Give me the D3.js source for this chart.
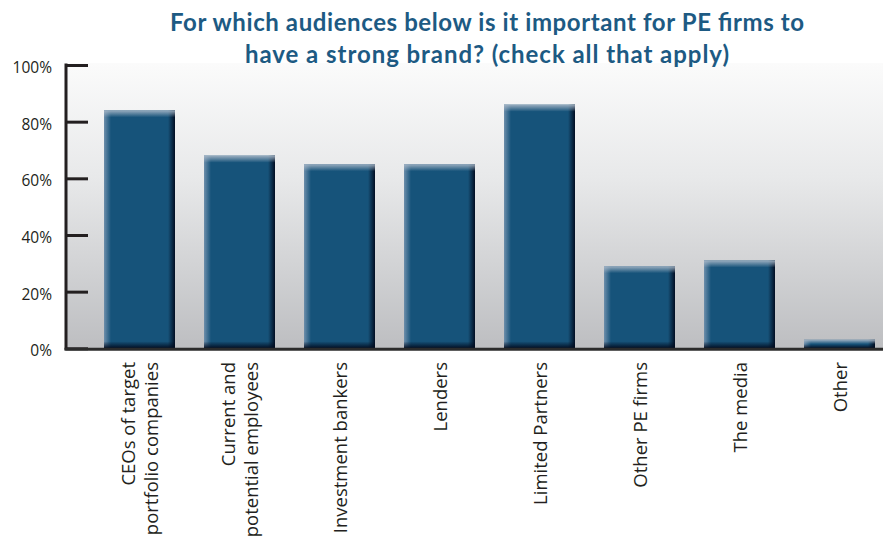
<!DOCTYPE html>
<html>
<head>
<meta charset="utf-8">
<script src="https://cdn.jsdelivr.net/npm/d3@7"></script>
<style>
  html, body { margin: 0; padding: 0; background: #ffffff; }
  svg { display: block; }
</style>
</head>
<body>
<svg id="chart" width="883" height="541"></svg>
<script>
const titleLines = ["For which audiences below is it important for PE firms to", "have a strong brand? (check all that apply)"];
const categories = [
  ["CEOs of target", "portfolio companies"],
  ["Current and", "potential employees"],
  ["Investment bankers"],
  ["Lenders"],
  ["Limited Partners"],
  ["Other PE firms"],
  ["The media"],
  ["Other"]
];
const values = [84, 68, 65, 65, 86, 29, 31, 3];
const yTicks = [0, 20, 40, 60, 80, 100];

const svg = d3.select("#chart");
const plotLeft = 66, plotRight = 883, plotTop = 63, plotBottom = 348.3;

const x = d3.scaleBand().domain(d3.range(categories.length)).range([89.5, 889.5]).paddingInner(0.29).paddingOuter(0.145);
const y = d3.scaleLinear().domain([0, 100]).range([plotBottom, 65]);

const defs = svg.append("defs");
const bg = defs.append("linearGradient").attr("id", "bg").attr("x1", 0).attr("y1", 0).attr("x2", 0).attr("y2", 1);
bg.append("stop").attr("offset", "0%").attr("stop-color", "#fbfbfb");
bg.append("stop").attr("offset", "40%").attr("stop-color", "#e8e9ea");
bg.append("stop").attr("offset", "100%").attr("stop-color", "#bdbec1");

function grad(id, x2, y2, stops) {
  const g = defs.append("linearGradient").attr("id", id).attr("x1", 0).attr("y1", 0).attr("x2", x2).attr("y2", y2);
  stops.forEach(s => g.append("stop").attr("offset", s[0]).attr("stop-color", s[1]).attr("stop-opacity", s[2]));
}
grad("gLeft", 1, 0, [["0%", "#8aa2bb", 0.75], ["100%", "#8aa2bb", 0]]);
grad("gRight", 1, 0, [["0%", "#000a1e", 0], ["100%", "#000a1e", 0.95]]);
grad("gTop", 0, 1, [["0%", "#a9b8c8", 0.9], ["100%", "#a9b8c8", 0]]);
grad("gBottom", 0, 1, [["0%", "#000a1e", 0], ["100%", "#000a1e", 0.95]]);

// plot background
svg.append("rect").attr("x", plotLeft).attr("y", plotTop).attr("width", plotRight - plotLeft).attr("height", plotBottom - plotTop).attr("fill", "url(#bg)");

// title
const titleWidths = [634, 484];
titleLines.forEach((t, i) => {
  svg.append("text").attr("x", 487).attr("y", 31 + i * 32)
    .attr("text-anchor", "middle")
    .attr("font-family", "Lato, 'Open Sans', sans-serif")
    .attr("font-weight", "bold").attr("font-size", 24)
    .attr("textLength", titleWidths[i]).attr("lengthAdjust", "spacing")
    .attr("fill", "#1d5a83").text(t);
});

// bars
const bars = svg.append("g");
const bev = 7;
values.forEach((v, i) => {
  const bx = x(i), bw = x.bandwidth(), by = y(v), bh = y(0) - y(v);
  const g = bars.append("g");
  g.append("rect").attr("x", bx).attr("y", by).attr("width", bw).attr("height", bh).attr("fill", "#16537a");
  const e = Math.min(bev, bh / 2);
  g.append("rect").attr("x", bx).attr("y", by).attr("width", bev).attr("height", bh).attr("fill", "url(#gLeft)");
  g.append("rect").attr("x", bx + bw - bev).attr("y", by).attr("width", bev).attr("height", bh).attr("fill", "url(#gRight)");
  g.append("rect").attr("x", bx).attr("y", by).attr("width", bw).attr("height", e).attr("fill", "url(#gTop)");
  g.append("rect").attr("x", bx).attr("y", by + bh - e).attr("width", bw).attr("height", e).attr("fill", "url(#gBottom)");
});

// y axis
const yAxis = d3.axisRight(y).tickValues(yTicks).tickSize(22).tickFormat(d => "");
const ya = svg.append("g").attr("transform", `translate(${plotLeft},0)`).call(yAxis);
ya.select(".domain").remove();
ya.selectAll(".tick line").attr("stroke", "#231f20").attr("stroke-width", 3);
svg.append("line").attr("x1", plotLeft).attr("x2", plotLeft).attr("y1", 63.5).attr("y2", plotBottom + 1.5).attr("stroke", "#231f20").attr("stroke-width", 3);
svg.selectAll(".ylab").data(yTicks).enter().append("text")
  .attr("x", 52).attr("y", d => y(d) + 8)
  .attr("text-anchor", "end")
  .attr("font-family", "'Open Sans', sans-serif").attr("font-size", 15.5)
  .attr("fill", "#231f20").text(d => d + "%");

// x axis baseline
svg.append("line").attr("x1", plotLeft - 1.5).attr("x2", plotRight).attr("y1", plotBottom + 1).attr("y2", plotBottom + 1).attr("stroke", "#2b2b2b").attr("stroke-width", 3);

// category labels
categories.forEach((lines, i) => {
  const cx = x(i) + x.bandwidth() / 2;
  const n = lines.length;
  lines.forEach((t, j) => {
    const off = (j - (n - 1) / 2) * 23 + 7;
    svg.append("text")
      .attr("transform", `translate(${cx + off},362) rotate(-90)`)
      .attr("text-anchor", "end")
      .attr("font-family", "'Open Sans', sans-serif").attr("font-size", 18.5)
      .attr("fill", "#231f20").text(t);
  });
});
</script>
</body>
</html>
